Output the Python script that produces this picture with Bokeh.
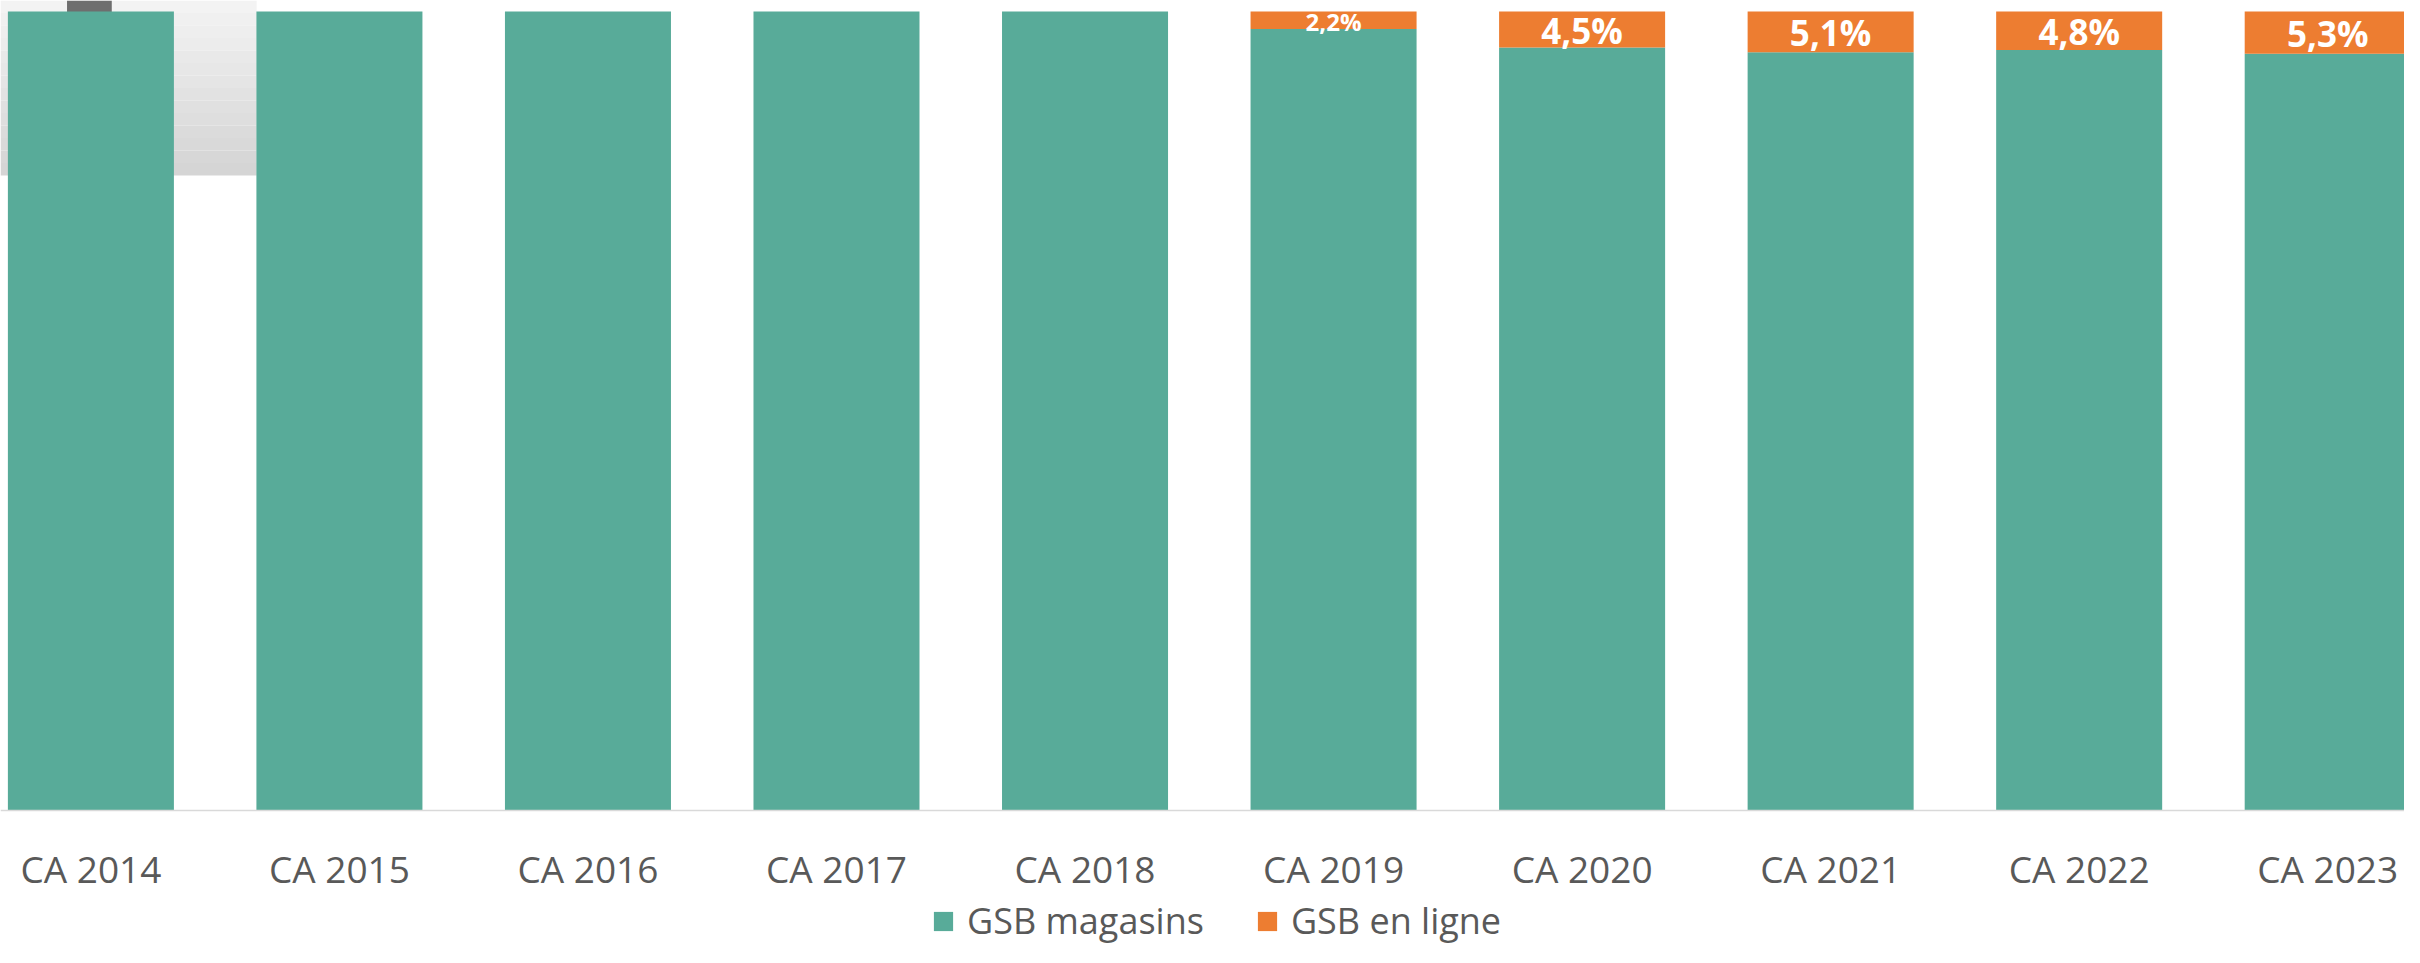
import numpy as np
from bokeh.plotting import figure
from bokeh.models import Range1d, Legend, LegendItem, ColumnDataSource, Span
from bokeh.core.properties import value
from bokeh.embed import file_html
from bokeh.resources import INLINE

# ---- data ----
categories = ["CA 2014", "CA 2015", "CA 2016", "CA 2017", "CA 2018",
              "CA 2019", "CA 2020", "CA 2021", "CA 2022", "CA 2023"]
magasins = [100.0, 100.0, 100.0, 100.0, 100.0, 97.8, 95.5, 94.9, 95.2, 94.7]
en_ligne = [0.0, 0.0, 0.0, 0.0, 0.0, 2.2, 4.5, 5.1, 4.8, 5.3]
labels = ["", "", "", "", "", "2,2%", "4,5%", "5,1%", "4,8%", "5,3%"]
series_names = ["GSB magasins", "GSB en ligne"]

GREEN = "#58AB99"
ORANGE = "#ED7D31"
TXT = "#595959"
FONT = "Open Sans"

idx = list(range(len(categories)))
top_all = [m + o for m, o in zip(magasins, en_ligne)]
mid_lab = [m + o / 2 for m, o in zip(magasins, en_ligne)]

src = ColumnDataSource(dict(x=idx, mag=magasins, top=top_all))

X0, X1 = -0.3637, 9.309
Y0, Y1 = -17.15, 101.38

p = figure(width=2404, height=947,
           x_range=Range1d(X0, X1), y_range=Range1d(Y0, Y1),
           output_backend="svg", toolbar_location=None,
           x_axis_location=None, y_axis_location=None,
           min_border_left=0, min_border_right=0, min_border_top=0,
           min_border_bottom=0)
p.outline_line_color = None
p.xgrid.visible = False
p.ygrid.visible = False
p.background_fill_color = "white"
p.border_fill_color = "white"

# decorative background picture fragment (grey gradient box, top-left)
n_strips = 14
ys = np.linspace(Y1, 79.47, n_strips + 1)
greys = np.linspace(0xF3, 0xD5, n_strips).astype(int)
p.quad(left=[X0] * n_strips, right=[0.667] * n_strips,
       top=list(ys[:-1]), bottom=list(ys[1:]),
       color=["#%02x%02x%02x" % (g, g, g) for g in greys], line_color=None)
p.quad(left=[-0.096], right=[0.084], top=[Y1], bottom=[98.0],
       color="#6e6e6e", line_color=None)

r1 = p.vbar(x="x", width=0.668, bottom=0, top="mag", source=src,
            fill_color=GREEN, line_color=None)
r2 = p.vbar(x="x", width=0.668, bottom="mag", top="top", source=src,
            fill_color=ORANGE, line_color=None)

# axis line
p.add_layout(Span(location=0, dimension="width", line_color="#d9d9d9",
                  line_width=1.5))

# category labels (x axis)
p.text(x=idx, y=[0] * len(idx), text=categories, text_align="center",
       text_baseline="alphabetic", text_font=value(FONT),
       text_font_size="37px", text_color=TXT, y_offset=58)

# data labels
big = [i for i in idx if labels[i] and en_ligne[i] >= 3]
small = [i for i in idx if labels[i] and en_ligne[i] < 3]
p.text(x=[idx[i] for i in big], y=[mid_lab[i] for i in big],
       text=[labels[i] for i in big], text_align="center",
       text_baseline="middle", text_font=value(FONT),
       text_font_style="bold", text_font_size="35px", text_color="white",
       y_offset=1)
p.text(x=[idx[i] for i in small], y=[mid_lab[i] for i in small],
       text=[labels[i] for i in small], text_align="center",
       text_baseline="middle", text_font=value(FONT),
       text_font_style="bold", text_font_size="24px", text_color="white",
       y_offset=1)

legend = Legend(items=[LegendItem(label=series_names[0], renderers=[r1]),
                       LegendItem(label=series_names[1], renderers=[r2])],
                orientation="horizontal", location=(931, 2),
                glyph_width=24, glyph_height=24, label_standoff=12,
                spacing=51, padding=0, margin=0,
                label_text_font=FONT, label_text_font_size="36px",
                label_text_color=TXT, border_line_color=None,
                background_fill_alpha=0)
p.add_layout(legend, "center")

open("out.html", "w").write(file_html(p, INLINE))
